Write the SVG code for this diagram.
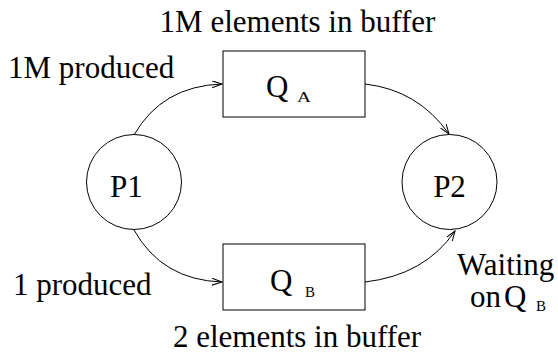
<svg xmlns="http://www.w3.org/2000/svg" width="558" height="356" viewBox="0 0 558 356" font-family="'Liberation Serif', 'Nimbus Roman', 'DejaVu Serif', serif">
  <style>
    text { font-family: "Liberation Serif", "Nimbus Roman", "DejaVu Serif", serif; fill: #000; }
    .lbl { font-size: 31px; }
    .sub { font-size: 14px; }
    .node { fill: #fff; stroke: #000; stroke-width: 1; }
    .edge { fill: none; stroke: #000; stroke-width: 1; }
  </style>
  <defs>
    <marker id="arrow" markerUnits="userSpaceOnUse" markerWidth="12" markerHeight="10" refX="10" refY="3.5" orient="auto">
      <path d="M0,0 L10,3.5 L0,7" fill="none" stroke="#000" stroke-width="1"/>
    </marker>
  </defs>

  <rect width="558" height="356" fill="#fff"/>

  <!-- connectors -->
  <g id="connectors">
    <path class="edge" d="M134,135 Q162,86 222,84" marker-end="url(#arrow)"/>
    <path class="edge" d="M134,230 Q162,280 222,282" marker-end="url(#arrow)"/>
    <path class="edge" d="M365,84 Q418,90 449,134" marker-end="url(#arrow)"/>
    <path class="edge" d="M365,282 Q425,275 455,231" marker-end="url(#arrow)"/>
  </g>

  <!-- producer -->
  <g id="P1">
    <circle class="node" cx="134" cy="182" r="47.5"/>
    <text class="lbl" x="110" y="197">P1</text>
  </g>

  <!-- consumer -->
  <g id="P2">
    <circle class="node" cx="449.5" cy="182" r="47.5"/>
    <text class="lbl" x="449.5" y="197" text-anchor="middle">P2</text>
  </g>

  <!-- queue A -->
  <g id="QA">
    <rect class="node" x="223" y="51" width="142" height="66"/>
    <text class="lbl" x="266" y="97">Q</text>
    <text class="sub" x="297" y="102" textLength="14" lengthAdjust="spacingAndGlyphs">A</text>
  </g>

  <!-- queue B -->
  <g id="QB">
    <rect class="node" x="223" y="244" width="142" height="66"/>
    <text class="lbl" x="270" y="291">Q</text>
    <text class="sub" x="305" y="297" textLength="10" lengthAdjust="spacingAndGlyphs">B</text>
  </g>

  <!-- annotations -->
  <g id="labels">
    <text class="lbl" x="297.5" y="32" text-anchor="middle">1M elements in buffer</text>
    <text class="lbl" x="8" y="78">1M produced</text>
    <text class="lbl" x="13" y="295">1 produced</text>
    <text class="lbl" x="297" y="347" text-anchor="middle">2 elements in buffer</text>
    <text class="lbl" x="457" y="275">Waiting</text>
    <text class="lbl" x="470" y="307">on</text>
    <text class="lbl" x="504" y="307">Q</text>
    <text class="sub" x="536" y="311" textLength="10" lengthAdjust="spacingAndGlyphs">B</text>
  </g>
</svg>
